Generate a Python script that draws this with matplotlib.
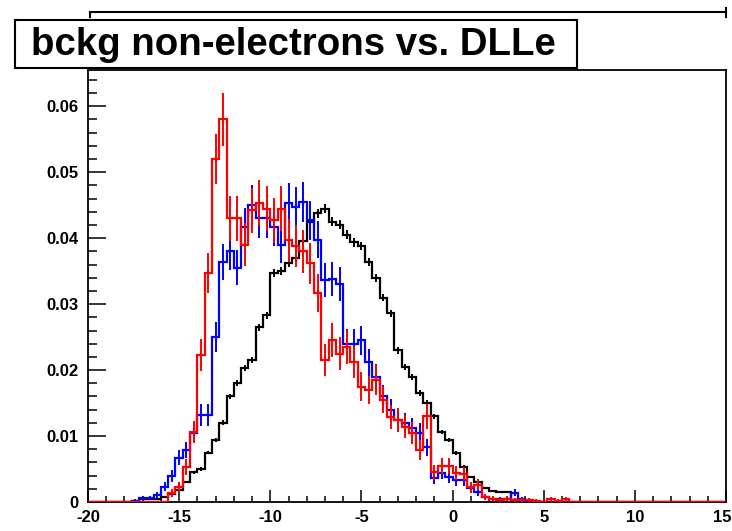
import numpy as np
import matplotlib.pyplot as plt
from matplotlib.lines import Line2D
from matplotlib.patches import Rectangle
from matplotlib.ticker import MultipleLocator, FuncFormatter

plt.rcParams['font.family'] = ['Liberation Sans', 'DejaVu Sans']
plt.rcParams['axes.unicode_minus'] = False

# DLLe binning: 0.4 wide bins starting at -20, axis shown up to 15
X_MIN, X_MAX = -20.0, 15.0
BIN_W, N_BINS = 0.4, 90
edges = X_MIN + BIN_W * np.arange(N_BINS + 1)
centers = 0.5 * (edges[:-1] + edges[1:])

title = "bckg non-electrons vs. DLLe"

# normalised bin contents, starting at bin index *_start
black_start = 6
black_vals = [0.0002, 0.0004, 0.0005, 0.0005, 0.0007, 0.0012, 0.0018, 0.0030,
              0.0045, 0.0050, 0.0075, 0.0094, 0.0120, 0.0160, 0.0180, 0.0203,
              0.0215, 0.0265, 0.0283, 0.0347, 0.0350, 0.0362, 0.0370, 0.0395,
              0.0424, 0.0438, 0.0445, 0.0425, 0.0420, 0.0405, 0.0394, 0.0388,
              0.0364, 0.0340, 0.0310, 0.0286, 0.0230, 0.0205, 0.0190, 0.0165,
              0.0150, 0.0130, 0.0106, 0.0094, 0.0074, 0.0053, 0.0038, 0.0030,
              0.0021, 0.0016, 0.0015, 0.0015, 0.0003]

blue_start = 6
blue_vals = [0.0002, 0.0006, 0.0006, 0.0010, 0.0023, 0.0040, 0.0067, 0.0079,
             0.0104, 0.0132, 0.0132, 0.0250, 0.0364, 0.0380, 0.0355, 0.0417,
             0.0450, 0.0430, 0.0430, 0.0417, 0.0390, 0.0453, 0.0447, 0.0455,
             0.0427, 0.0398, 0.0336, 0.0338, 0.0330, 0.0240, 0.0240, 0.0245,
             0.0212, 0.0190, 0.0160, 0.0140, 0.0124, 0.0120, 0.0112, 0.0105,
             0.0083, 0.0036, 0.0044, 0.0038, 0.0033, 0.0033, 0.0021, 0.0015,
             0.0008, 0.0005, 0.0005, 0.0005, 0.0014, 0.0004, 0.0002]

red_start = 11
red_vals = [0.0014, 0.0023, 0.0053, 0.0106, 0.0223, 0.0347, 0.0520, 0.0580,
            0.0430, 0.0430, 0.0390, 0.0442, 0.0453, 0.0445, 0.0427, 0.0445,
            0.0397, 0.0388, 0.0380, 0.0362, 0.0317, 0.0215, 0.0245, 0.0225,
            0.0235, 0.0212, 0.0175, 0.0170, 0.0185, 0.0155, 0.0129, 0.0124,
            0.0114, 0.0105, 0.0079, 0.0130, 0.0045, 0.0054, 0.0054, 0.0044,
            0.0042, 0.0022, 0.0026, 0.0008, 0.0005, 0.0003, 0.0005, 0.0003,
            0.0003, 0.0003, 0.0002, 0.0, 0.0004, 0.0002, 0.0004]

# number of entries behind each histogram (sets the statistical errors)
n_black = 90000
n_blue = 5000
n_red = 3700


def full_hist(start, vals):
    h = np.zeros(N_BINS)
    h[start:start + len(vals)] = vals
    return h


def draw_hist(ax, h, n_entries, color):
    ax.stairs(h, edges, color=color, linewidth=1.6, zorder=3)
    err = np.sqrt(h / n_entries)
    m = h > 0
    ax.errorbar(centers[m], h[m], yerr=err[m], fmt='none', ecolor=color,
                elinewidth=1.4, capsize=0, zorder=3)


fig = plt.figure(figsize=(7.32, 5.31), dpi=100)
W, H = 732.0, 531.0
ax = fig.add_axes([88 / W, 1 - 502 / H, (726 - 88) / W, (502 - 70) / H])

draw_hist(ax, full_hist(black_start, black_vals), n_black, 'black')
draw_hist(ax, full_hist(blue_start, blue_vals), n_blue, '#0000ff')
draw_hist(ax, full_hist(red_start, red_vals), n_red, '#ff0000')

ax.set_xlim(X_MIN, X_MAX)
ax.set_ylim(0, 0.0655)

ax.xaxis.set_major_locator(MultipleLocator(5))
ax.xaxis.set_minor_locator(MultipleLocator(1))
ax.yaxis.set_major_locator(MultipleLocator(0.01))
ax.yaxis.set_minor_locator(MultipleLocator(0.002))
ax.yaxis.set_major_formatter(FuncFormatter(lambda v, p: '0' if abs(v) < 1e-9 else f'{v:.2f}'))
# the label at the right end is placed separately so it stays inside the canvas
ax.xaxis.set_major_formatter(FuncFormatter(lambda v, p: '' if v >= X_MAX else f'{v:.0f}'))

ax.tick_params(which='both', direction='in', width=1.1, top=False, right=False,
               labelsize=12)
ax.tick_params(axis='x', which='major', length=8.6, pad=5.5)
ax.tick_params(axis='x', which='minor', length=4.3)
ax.tick_params(axis='y', which='major', length=13, pad=6.5)
ax.tick_params(axis='y', which='minor', length=6.5)
for lab in ax.get_xticklabels() + ax.get_yticklabels():
    lab.set_fontweight('bold')
ax.annotate(f'{X_MAX:.0f}', xy=(X_MAX, 0), xycoords=('data', 'axes fraction'),
            xytext=(-3, -5.5), textcoords='offset points', ha='center', va='top',
            fontsize=12, fontweight='bold')
for sp in ax.spines.values():
    sp.set_linewidth(1.3)

# horizontal bar above the title with small end ticks
y_bar = 1 - 12 / H
fig.add_artist(Line2D([90 / W, 726 / W], [y_bar, y_bar], color='black', lw=1.5))
fig.add_artist(Line2D([90 / W, 90 / W], [y_bar, y_bar - 5 / H], color='black', lw=1.5))
fig.add_artist(Line2D([726 / W, 726 / W], [y_bar + 4 / H, y_bar - 5 / H], color='black', lw=1.5))

# title box
fig.add_artist(Rectangle((15 / W, 1 - 68 / H), (577 - 15) / W, (68 - 20) / H,
                         transform=fig.transFigure, facecolor='white',
                         edgecolor='black', linewidth=1.5, zorder=5))
fig.text(31 / W, 1 - 45 / H, title, ha='left', va='center', fontsize=27.6,
         fontweight='bold', zorder=6)

fig.savefig('out.png', dpi=100)
